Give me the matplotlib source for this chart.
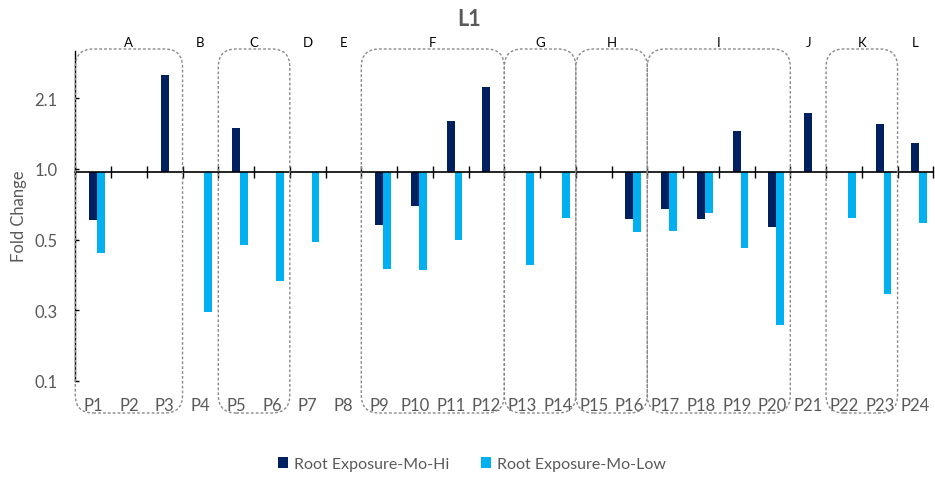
import matplotlib
matplotlib.use("Agg")
import matplotlib.pyplot as plt
import numpy as np
from matplotlib.patches import FancyBboxPatch
from matplotlib.ticker import FixedLocator, FormatStrFormatter, NullLocator
from matplotlib.transforms import IdentityTransform, blended_transform_factory

nan = np.nan

# probes on the x axis, left to right
probes = ["P1", "P2", "P3", "P4", "P5", "P6", "P7", "P8", "P9", "P10", "P11", "P12",
          "P13", "P14", "P15", "P16", "P17", "P18", "P19", "P20", "P21", "P22", "P23", "P24"]

# groups written above the plot and how many probes each one spans
groups = ["A", "B", "C", "D", "E", "F", "G", "H", "I", "J", "K", "L"]
group_sizes = [3, 1, 2, 1, 1, 4, 2, 2, 4, 1, 2, 1]

# fold change per probe (nan = no bar)
mo_hi = [0.625, nan, 2.58, nan, 1.535, nan, nan, nan, 0.595, 0.717, 1.644, 2.30,
         nan, nan, nan, 0.631, 0.694, 0.629, 1.495, 0.582, 1.778, nan, 1.596, 1.333]
mo_low = [0.453, nan, nan, 0.254, 0.489, 0.343, 0.503, nan, 0.386, 0.382, 0.515, nan,
          0.403, 0.635, nan, 0.555, 0.561, 0.667, 0.476, 0.222, nan, 0.635, 0.303, 0.608]

# log axis ticks (printed with one decimal)
y_ticks = [0.1287, 0.2574, 0.5148, 1.0296, 2.059]

DARK = "#002060"
LIGHT = "#00B0F0"
GREY = "#595959"

plt.rcParams["font.family"] = ["Lato", "DejaVu Sans"]

W, H = 935, 481
fig = plt.figure(figsize=(W / 100, H / 100), dpi=100)
ax = fig.add_axes([75.3 / W, 99 / H, 858 / W, 330 / H])

x = np.arange(len(probes))
bw = 0.22
bars_hi = ax.bar(x, np.array(mo_hi) - 1, bottom=1, width=bw, color=DARK,
                 label="Root Exposure-Mo-Hi")
bars_low = ax.bar(x + bw, np.array(mo_low) - 1, bottom=1, width=bw, color=LIGHT,
                  label="Root Exposure-Mo-Low")

ax.set_yscale("log", base=2)
ax.set_ylim(0.1287, 3.27)
ax.set_xlim(-0.5, len(probes) - 0.5)
ax.yaxis.set_major_locator(FixedLocator(y_ticks))
ax.yaxis.set_minor_locator(NullLocator())
ax.yaxis.set_major_formatter(FormatStrFormatter("%.1f"))
ax.tick_params(axis="y", direction="in", length=3, width=1, color="black",
               labelcolor=GREY, labelsize=12, pad=13)

# category axis crosses at 1.0, ticks between categories
ax.spines["bottom"].set_position(("data", 1.0))
ax.spines["bottom"].set_linewidth(1.2)
ax.spines["left"].set_linewidth(1.0)
for s in ["top", "right"]:
    ax.spines[s].set_visible(False)
ax.set_xticks(np.arange(len(probes) + 1) - 0.5)
ax.set_xticklabels([])
ax.tick_params(axis="x", direction="inout", length=8.5, width=1, color="black")

lab_tr = blended_transform_factory(ax.transData, fig.transFigure)
for i, p in enumerate(probes):
    ax.text(i, 1 - 406 / H, p, transform=lab_tr, ha="center", va="center",
            fontsize=12, color=GREY, clip_on=False)

# group letters and dashed rounded boxes
start = 0
for g, n in zip(groups, group_sizes):
    ax.text(start + (n - 1) / 2, 1 - 43 / H, g, transform=lab_tr, ha="center",
            va="center", fontsize=9.5, color="black", clip_on=False)
    if n > 1:
        x0 = ax.transData.transform((start - 0.5, 1))[0]
        x1 = ax.transData.transform((start + n - 0.5, 1))[0]
        y0, y1 = H - 414, H - 50
        box = FancyBboxPatch((x0, y0), x1 - x0, y1 - y0,
                             boxstyle="round,pad=0,rounding_size=18",
                             transform=IdentityTransform(), fill=False,
                             ec="#8a8a8a", lw=1, ls=(0, (2, 1.5)))
        fig.add_artist(box)
    start += n

fig.text(469 / W, 1 - 20 / H, "L1", ha="center", va="center", fontsize=15.5,
         fontweight="bold", color=GREY)
fig.text(19 / W, 1 - 216 / H, "Fold Change", ha="center", va="center",
         rotation=90, fontsize=12, color=GREY)

leg = fig.legend(handles=[bars_hi, bars_low], loc="center", ncol=2,
                 bbox_to_anchor=(472 / W, 1 - 465 / H), frameon=False,
                 fontsize=11.5, handlelength=0.65, handleheight=0.65,
                 handletextpad=0.35, columnspacing=2.0)
for t in leg.get_texts():
    t.set_color(GREY)

fig.savefig("out.png", dpi=100)
